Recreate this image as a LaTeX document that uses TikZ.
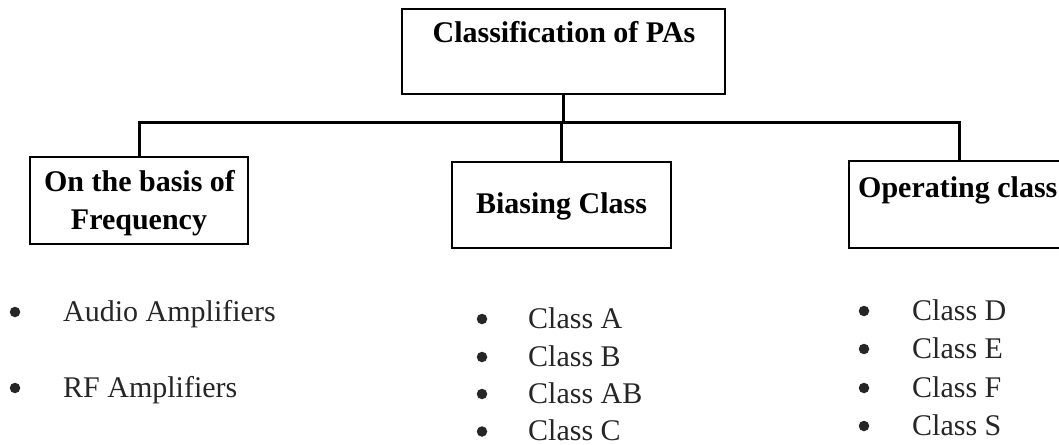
\documentclass[tikz,border=0pt]{standalone}
\usepackage{fontspec}
\setmainfont{Liberation Serif}
\begin{document}
\begin{tikzpicture}[x=1pt,y=-1pt,
  box/.style={draw=black,line width=1.6pt,inner sep=0pt,fill=none},
  conn/.style={draw=black,line width=3pt,line join=miter},
  head/.style={inner sep=0pt,font=\fontsize{30}{36}\selectfont\bfseries,text=black},
  item/.style={inner sep=0pt,anchor=base west,font=\fontsize{30}{36}\selectfont,text=black!85},
  dot/.style={circle,fill=black!85,inner sep=0pt,minimum size=10.5pt}]
\useasboundingbox (0,0) rectangle (1059,444);
\clip (0,0) rectangle (1059,444);
\fill[white] (0,0) rectangle (1059,444);
% boxes
\node[box,minimum width=323pt,minimum height=85pt] (top) at (563.5,51.5) {};
\node[box,minimum width=218pt,minimum height=87pt] (fl) at (139,200.5) {};
\node[box,minimum width=219pt,minimum height=86pt] (bi) at (561.5,205) {};
\node[box,minimum width=220pt,minimum height=87pt] (op) at (959,204.5) {};
% connectors
\coordinate (bus) at (563,122);
\draw[conn] (top.south) -- (top.south |- bus);
\draw[conn] (fl.north) -- (fl.north |- bus) -- (op.north |- bus) -- (op.north);
\draw[conn] (bi.north) -- (bi.north |- bus);
% headings
\node[head,anchor=base] (ttop) at (564,43) {Classification of PAs};
\node[head,anchor=base] (tfl1) at (139.5,191.5) {On the basis of};
\node[head,anchor=base] (tfl2) at (139,229) {Frequency};
\node[head,anchor=base] (tbi) at (561.5,213) {Biasing Class};
\node[head,anchor=base west] (top2) at (858,197) {Operating class};
% left list
\node[dot] (b1) at (15,312) {};
\node[item] (i1) at (63,321) {Audio Amplifiers};
\node[dot] (b2) at (15,388) {};
\node[item] (i2) at (63,397) {RF Amplifiers};
% middle list
\node[dot] (b3) at (482,319) {};
\node[item] (i3) at (528,328) {Class A};
\node[dot] (b4) at (482,357) {};
\node[item] (i4) at (528,366) {Class B};
\node[dot] (b5) at (482,394) {};
\node[item] (i5) at (528,403) {Class AB};
\node[dot] (b6) at (482,431.5) {};
\node[item] (i6) at (528,440.5) {Class C};
% right list
\node[dot] (b7) at (864,311) {};
\node[item] (i7) at (912,320) {Class D};
\node[dot] (b8) at (864,349) {};
\node[item] (i8) at (912,358) {Class E};
\node[dot] (b9) at (864,388) {};
\node[item] (i9) at (912,397) {Class F};
\node[dot] (b10) at (864,426) {};
\node[item] (i10) at (912,435) {Class S};
\end{tikzpicture}
\end{document}
